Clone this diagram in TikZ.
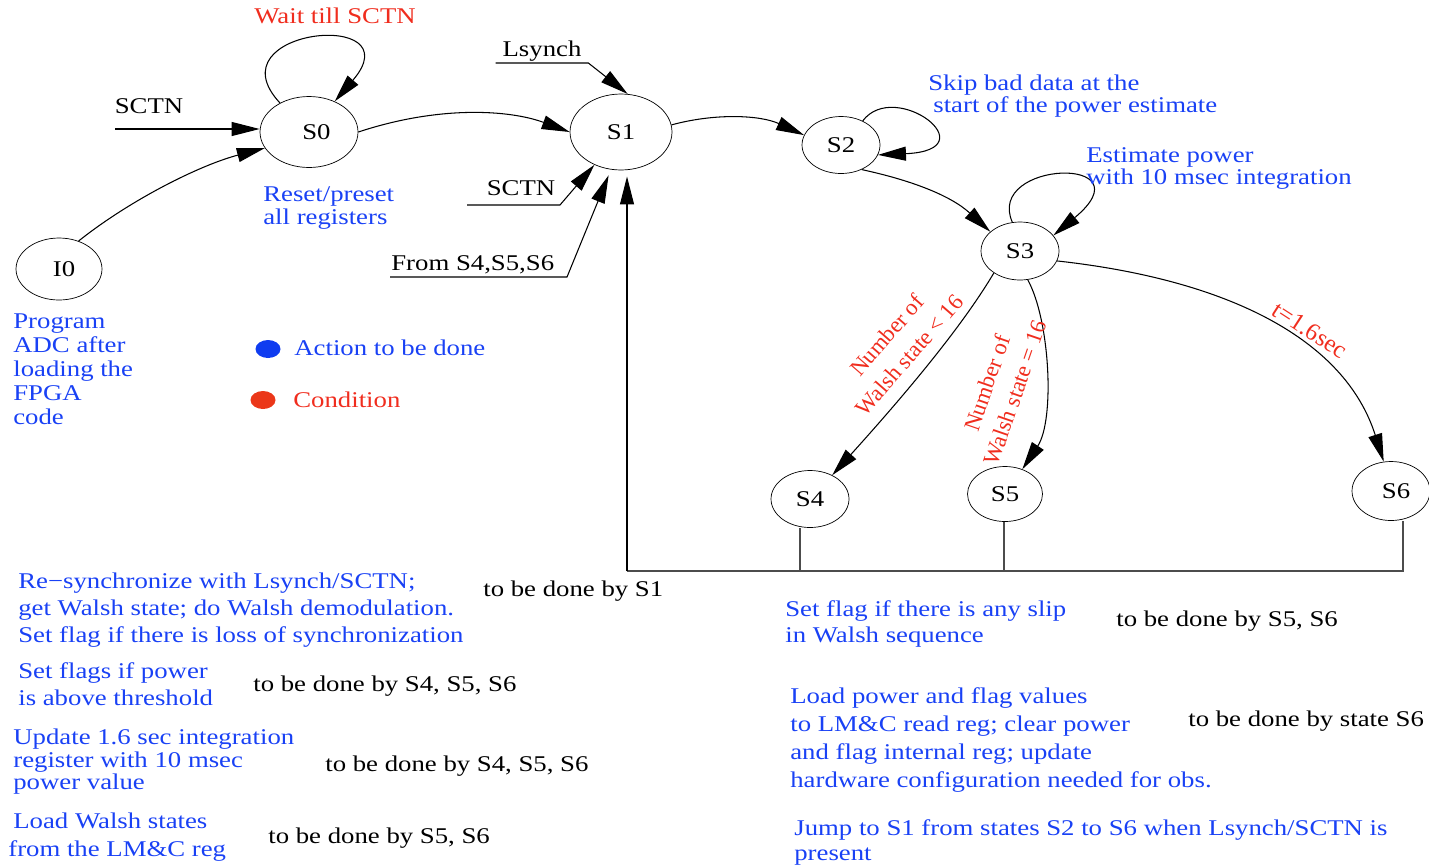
\documentclass[tikz,border=0pt]{standalone}
\usepackage{fontspec}
\setmainfont{Liberation Serif}[FakeStretch=1.19]
\newfontfamily\condfont{Liberation Serif}
\usetikzlibrary{shapes.geometric, arrows.meta}
\definecolor{blueT}{RGB}{25,65,245}
\definecolor{redT}{RGB}{240,45,30}
\definecolor{legB}{RGB}{15,60,240}
\definecolor{legR}{RGB}{235,55,25}

\begin{document}
\begin{tikzpicture}[
        x=0.02cm, y=-0.02cm,
        fsm/.style = {draw, ellipse, inner sep=0pt, minimum width=1.56cm, minimum height=1.14cm, font=\fontsize{12.8}{15}\selectfont},
        arrow/.style = {-{Triangle[length=0.56cm,width=0.28cm]}, line width=0.6pt},
        back/.style = {line width=0.9pt, black!70},
        note/.style = {font=\fontsize{12.8}{#1}\selectfont, text=blueT, align=left, anchor=west, inner sep=0pt},
        note/.default = 15.3,
        who/.style = {font=\fontsize{12.8}{15.3}\selectfont, anchor=west, inner sep=0pt},
        lbl/.style = {font=\fontsize{12.8}{15.3}\selectfont, inner sep=0pt},
        cond/.style = {font=\condfont\fontsize{13}{17}\selectfont, text=redT, align=center, inner sep=0pt},
        dot/.style = {ellipse, inner sep=0pt, minimum width=0.5cm, minimum height=0.36cm}
        ]
    \useasboundingbox (0,0) rectangle (1429,866);

        % states
        \node[fsm, minimum width=1.72cm, minimum height=1.24cm] (i0) at (59,269) {\hspace*{0.2cm}I0};
        \node[fsm, minimum width=1.96cm, minimum height=1.42cm] (s0) at (309,132) {\hspace*{0.3cm}S0};
        \node[fsm, minimum width=2.04cm, minimum height=1.52cm] (s1) at (621,132) {S1};
        \node[fsm] (s2) at (841,145) {S2};
        \node[fsm, minimum height=1.16cm] (s3) at (1020,251) {S3};
        \node[fsm] (s4) at (810,499) {S4};
        \node[fsm, minimum width=1.5cm, minimum height=1.1cm] (s5) at (1005,494) {S5};
        \node[fsm, minimum height=1.18cm] (s6) at (1391,491) {\hspace*{0.2cm}S6};

        % inputs of S0
        \coordinate (sctnA) at (115,129);
        \node[lbl] (sctnAl) at (149,106) {SCTN};
        \draw[arrow] (sctnA) -- (sctnA -| s0.west);
        \draw[arrow] (i0.55) .. controls (130,200) and (200,165) .. (s0.200);
        \draw[arrow] (s0.135) .. controls (210,28) and (415,8) .. (s0.50);
        \node[lbl, text=redT] (waitl) at (335,16) {Wait till SCTN};
        \node[note=13.6] (s0note) at (263,208) {Reset/preset\\all registers};

        % inputs of S1
        \draw[arrow] (s0.east) .. controls (440,105) and (510,110) .. (s1.west);
        \node[lbl, anchor=south, minimum width=1.84cm, inner ysep=0.5pt] (lsyn) at (542,63) {Lsynch};
        \draw[arrow] (lsyn.south west) -- (lsyn.south east) -- (s1.80);
        \coordinate (sctnBl) at (467,205);
        \node[lbl, anchor=south east, inner xsep=2.5pt, inner ysep=5pt] (sctnB) at (560,205) {SCTN};
        \draw[arrow] (sctnBl) -- (sctnB.south east) -- (s1.231);
        \coordinate (fromA) at (390,277);
        \coordinate (fromB) at (567,277);
        \node[lbl, anchor=south west, inner ysep=1.5pt] (froml) at (391,277) {From S4,S5,S6};
        \draw[arrow, shorten >=3.5pt] (fromA) -- (fromB) -- (s1.255);

        % main chain
        \draw[arrow] (s1.8) .. controls (715,113) and (760,115) .. (s2.165);
        \draw[arrow] (s2.48) .. controls (895,78) and (990,150) .. (s2.-15);
        \node[note=12.5] (s2note) at (928,96) {Skip bad data at the\\\hspace*{0.1cm}start of the power estimate};
        \draw[arrow] (s2.-50) .. controls (910,180) and (950,195) .. (s3.147);
        \draw[arrow] (s3.105) .. controls (985,160) and (1150,155) .. (s3.25);
        \node[note=12.5] (s3note) at (1086,168) {Estimate power\\with 10 msec integration};
        \draw[arrow] (s3.220) .. controls (960,330) and (900,400) .. (s4.47);
        \draw[arrow] (s3.-75) .. controls (1050,320) and (1055,420) .. (s5.55);
        \draw[arrow] (s3.-15) .. controls (1230,280) and (1345,340) .. (s6.104);
        \node[cond, rotate=49] (c4) at (898,345) {Number of\\Walsh state < 16};
        \node[cond, rotate=71] (c5) at (1001,388) {Number of\\Walsh state = 16};
        \node[cond, font=\condfont\fontsize{14}{17}\selectfont, rotate=-33] (c6) at (1310,330) {t=1.6sec};

        % way back to S1
        \coordinate (fbL) at (627,571);
        \coordinate (fb4) at (800,571);
        \coordinate (fb5) at (1004,571);
        \coordinate (fb6) at (1403,571);
        \draw[back] (fb4 |- s4.south) -- (fb4);
        \draw[back] (fb5 |- s5.south) -- (fb5);
        \draw[back] (fb6 |- s6.south) -- (fb6) -- (fbL);
        \draw[arrow, shorten >=3.5pt] (fbL) -- (fbL |- s1.south);

        % legend
        \node[note=13.6] (i0note) at (13,369) {Program\\ADC after\\loading the\\FPGA\\code};
        \node[dot, fill=legB] (dotA) at (268,349) {};
        \node[note] (actl) at (294,348) {Action to be done};
        \node[dot, fill=legR] (dotC) at (263,400) {};
        \node[note, text=redT] (condl) at (293,400) {Condition};

        % actions
        \node[note] (n1) at (18,610) {Re−synchronize with Lsynch/SCTN;\\get Walsh state; do Walsh demodulation.\\Set flag if there is loss of synchronization};
        \node[who] (w1) at (483,591) {to be done by S1};
        \node[note] (n2) at (18,684) {Set flags if power\\is above threshold};
        \node[who] (w2) at (253,686) {to be done by S4, S5, S6};
        \node[note=12.8] (n3) at (13,762) {Update 1.6 sec integration\\register with 10 msec\\power value};
        \node[who] (w3) at (325,766) {to be done by S4, S5, S6};
        \node[note=15.9] (n4) at (8,837) {\hspace*{0.1cm}Load Walsh states\\from the LM\&C reg};
        \node[who] (w4) at (268,838) {to be done by S5, S6};
        \node[note=14.7] (n5) at (785,624) {Set flag if there is any slip\\in Walsh sequence};
        \node[who] (w5) at (1116,621) {to be done by S5, S6};
        \node[note=15.9] (n6) at (790,740) {Load power and flag values\\to LM\&C read reg; clear power\\and flag internal reg; update\\hardware configuration needed for obs.};
        \node[who] (w6) at (1188,721) {to be done by state S6};
        \node[note=14.2] (n7) at (794,842) {Jump to S1 from states S2 to S6 when Lsynch/SCTN is\\present};

        \end{tikzpicture}
\end{document}
